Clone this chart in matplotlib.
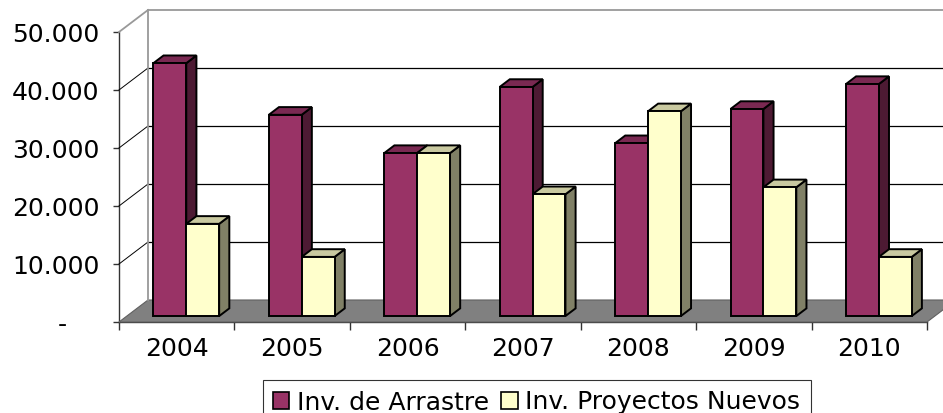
import matplotlib
matplotlib.use("Agg")
import matplotlib.pyplot as plt
from matplotlib.transforms import Affine2D
from matplotlib.patches import Polygon, Patch
import numpy as np

years = ["2004", "2005", "2006", "2007", "2008", "2009", "2010"]
arrastre = [43600, 34700, 28100, 39500, 29800, 35700, 40000]
nuevos = [15900, 10200, 28100, 21000, 35300, 22200, 10200]
y_ticks = [0, 10000, 20000, 30000, 40000, 50000]
y_labels = ["-    ", "10.000", "20.000", "30.000", "40.000", "50.000"]
series_names = ["Inv. de Arrastre", "Inv. Proyectos Nuevos"]

plt.rcParams['font.family'] = ['DejaVu Sans']

W, H, DPI = 943, 413, 100
fig = plt.figure(figsize=(W / DPI, H / DPI), dpi=DPI)
ax = fig.add_axes([119 / W, 91 / H, 808 / W, 290 / H])
n = len(years)
ax.set_xlim(-0.5, n - 0.5)
ax.set_ylim(0, 50000)
ax.patch.set_visible(False)

# depth offsets in display pixels (full depth)
DX, DY = 29.0, 22.0


def tr(z):
    return ax.transData + Affine2D().translate(DX * z, DY * z)


def face(pts, fc, ec, lw, zo):
    disp = [tr(z).transform((x, y)) for x, y, z in pts]
    inv = fig.transFigure.inverted()
    figpts = inv.transform(np.array(disp))
    p = Polygon(figpts, closed=True, facecolor=fc, edgecolor=ec, linewidth=lw,
                transform=fig.transFigure, zorder=zo, joinstyle='miter')
    fig.add_artist(p)
    return p


def line3(p0, p1, color, lw, zo):
    inv = fig.transFigure.inverted()
    a = inv.transform(tr(p0[2]).transform((p0[0], p0[1])))
    b = inv.transform(tr(p1[2]).transform((p1[0], p1[1])))
    fig.add_artist(plt.Line2D([a[0], b[0]], [a[1], b[1]], color=color, lw=lw,
                              transform=fig.transFigure, zorder=zo))


xl, xr = -0.5, n - 0.5
ymax = 50000

# floor
face([(xl, 0, 0), (xr, 0, 0), (xr, 0, 1), (xl, 0, 1)], "#808080", "#606060", 0.8, 1)
# back wall gridlines and side-wall oblique lines
for v in y_ticks[1:-1]:
    line3((xl, v, 1), (xr + 0.5, v, 1), "black", 0.9, 2)
    line3((xl, v, 0), (xl, v, 1), "black", 0.7, 2)
# back wall border (gray)
line3((xl, 0, 1), (xl, ymax, 1), "#999999", 1.3, 2)
line3((xl, ymax, 1), (xr + 0.5, ymax, 1), "#999999", 1.3, 2)
line3((xl, ymax, 0), (xl, ymax, 1), "#999999", 1.3, 2)

# bars
bw = 0.285
z0, z1 = 0.27, 0.62
colors = [("#993366", "#7A2952", "#4D1A33"), ("#FFFFCC", "#C9C9A0", "#808066")]
series = [arrastre, nuevos]
ec, lw = "black", 1.4
for i in range(n):
    for s, vals in enumerate(series):
        x0 = i - bw + s * bw + 0.015
        x1 = x0 + bw
        h = vals[i]
        front, top, side = colors[s]
        zo = 5 + i * 2 + s
        face([(x1, 0, z0), (x1, h, z0), (x1, h, z1), (x1, 0, z1)], side, ec, lw, zo)
        face([(x0, h, z0), (x1, h, z0), (x1, h, z1), (x0, h, z1)], top, ec, lw, zo)
        face([(x0, 0, z0), (x1, 0, z0), (x1, h, z0), (x0, h, z0)], front, ec, lw, zo)

# axes styling
for sp in ["top", "right"]:
    ax.spines[sp].set_visible(False)
ax.spines["left"].set_color("#333333")
ax.spines["bottom"].set_color("#333333")
ax.spines["left"].set_linewidth(1.0)
ax.spines["bottom"].set_linewidth(1.0)
ax.set_yticks(y_ticks)
ax.set_yticklabels(y_labels, fontsize=18)
ax.tick_params(axis="y", length=4, width=1, color="#333333", pad=10)
ax.set_xticks(np.arange(-0.5, n, 1.0))
ax.set_xticklabels([""] * (n + 1))
ax.set_xticks(np.arange(n), minor=True)
ax.set_xticklabels(years, minor=True, fontsize=18)
ax.tick_params(axis="x", which="major", length=6, width=1, color="#333333", direction="out")
ax.tick_params(axis="x", which="minor", length=0, pad=11)

# legend
handles = [Patch(facecolor=colors[0][0], edgecolor="black", linewidth=1.2),
           Patch(facecolor=colors[1][0], edgecolor="black", linewidth=1.2)]
leg = fig.legend(handles, series_names, loc="upper center", bbox_to_anchor=(0.569, 33 / H),
                 ncol=2, fontsize=18, frameon=True, fancybox=False, edgecolor="black",
                 handlelength=0.65, handleheight=0.65, handletextpad=0.3, columnspacing=0.5,
                 borderpad=0.42, borderaxespad=0)
leg.get_frame().set_linewidth(0.8)

fig.savefig("out.png", dpi=DPI)
